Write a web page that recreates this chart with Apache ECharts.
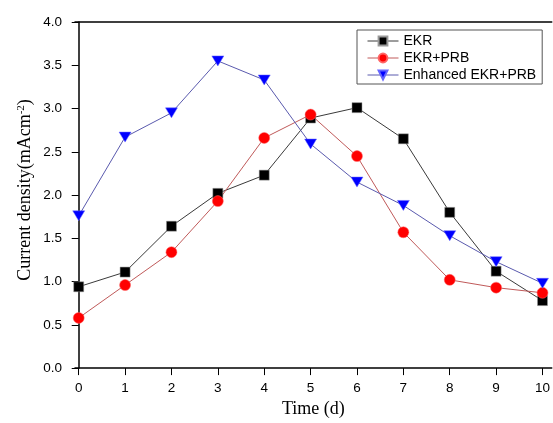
<!DOCTYPE html>
<html><head><meta charset="utf-8">
<script src="https://cdn.jsdelivr.net/npm/echarts@6/dist/echarts.min.js"></script>
<style>html,body{margin:0;padding:0;background:#fff}#c{width:553px;height:423px}</style>
</head><body><div id="c"></div>
<script>
const days = [0,1,2,3,4,5,6,7,8,9,10];
const ekr = [0.94,1.11,1.64,2.02,2.23,2.89,3.01,2.65,1.80,1.12,0.78];
const ekrPrb = [0.58,0.96,1.34,1.93,2.66,2.93,2.45,1.57,1.02,0.93,0.87];
const enhanced = [1.76,2.67,2.95,3.55,3.33,2.59,2.15,1.88,1.53,1.23,0.98];
const xTicks = [0,1,2,3,4,5,6,7,8,9,10];
const yTicks = [0,0.5,1,1.5,2,2.5,3,3.5,4];
const seriesNames = ['EKR','EKR+PRB','Enhanced EKR+PRB'];
const lineColors = ['#3a3a3a','#c05a5a','#5a5aae'];
const markColors = ['#000000','#ff0000','#0000ff'];

const pairs = v => days.map((d,i)=>[d,v[i]]);
const sans = 'Arial, "Liberation Sans", sans-serif';
const serif = '"Times New Roman", "Liberation Serif", serif';

const chart = echarts.init(document.getElementById('c'), null, {renderer:'canvas'});
chart.setOption({
  animation:false,
  backgroundColor:'#fff',
  grid:{left:75, top:22, right:-2, bottom:47, containLabel:false},
  xAxis:[{
    type:'value', min:-0.08, max:10.2,
    axisLine:{show:true, onZero:false, lineStyle:{color:'#000', width:1.5}},
    axisTick:{show:true, length:7, customValues:xTicks, lineStyle:{color:'#000', width:1}},
    axisLabel:{customValues:xTicks, margin:13, color:'#000', fontSize:13.5, fontFamily:sans, formatter:v=>String(v)},
    splitLine:{show:false},
    name:'Time (d)', nameLocation:'middle', nameGap:30,
    nameTextStyle:{fontFamily:serif, fontSize:18, color:'#000'}
  },{
    type:'value', position:'top', min:-0.08, max:10.2,
    axisLine:{show:true, onZero:false, lineStyle:{color:'#000', width:1.5}},
    axisTick:{show:false}, axisLabel:{show:false}, splitLine:{show:false}
  }],
  yAxis:{
    type:'value', min:0, max:4, interval:0.5,
    axisLine:{show:true, lineStyle:{color:'#000', width:1.5}},
    axisTick:{show:true, length:7, lineStyle:{color:'#000', width:1}},
    axisLabel:{margin:13, color:'#000', fontSize:13.5, fontFamily:sans, formatter:v=>v.toFixed(1)},
    splitLine:{show:false}
  },
  legend:{
    orient:'vertical', left:357, top:30,
    padding:[4,6,2,10], itemGap:3, itemWidth:31, itemHeight:11,
    borderColor:'#555', borderWidth:1, backgroundColor:'#fff',
    textStyle:{fontFamily:sans, fontSize:14, color:'#000', lineHeight:14},
    data:seriesNames.map((n,i)=>({name:n, lineStyle:{color:lineColors[i], width:1}, itemStyle:{color:markColors[i]}}))
  },
  graphic:[{
    type:'text', x:25, y:190, rotation:Math.PI/2,
    style:{
      text:'{a|Current density(mAcm}{s|-2}{a|)}',
      align:'center', verticalAlign:'middle',
      rich:{
        a:{fontFamily:serif, fontSize:18, fill:'#000'},
        s:{fontFamily:serif, fontSize:11, fill:'#000', verticalAlign:'top', padding:[0,0,8,0]}
      }
    }
  }],
  series:[{
    name:seriesNames[0], type:'line', data:pairs(ekr),
    symbol:'rect', symbolSize:10,
    lineStyle:{color:lineColors[0], width:1},
    itemStyle:{color:markColors[0], borderColor:'#999', borderWidth:0.5}
  },{
    name:seriesNames[1], type:'line', data:pairs(ekrPrb),
    symbol:'circle', symbolSize:11,
    lineStyle:{color:lineColors[1], width:1},
    itemStyle:{color:markColors[1], borderColor:'#ff6666', borderWidth:0.5}
  },{
    name:seriesNames[2], type:'line', data:pairs(enhanced),
    symbol:'path://M0,0 L12,0 L6,10 Z', symbolSize:[12,10],
    lineStyle:{color:lineColors[2], width:1},
    itemStyle:{color:markColors[2], borderColor:'#6666ff', borderWidth:0.5}
  }]
});
</script></body></html>
